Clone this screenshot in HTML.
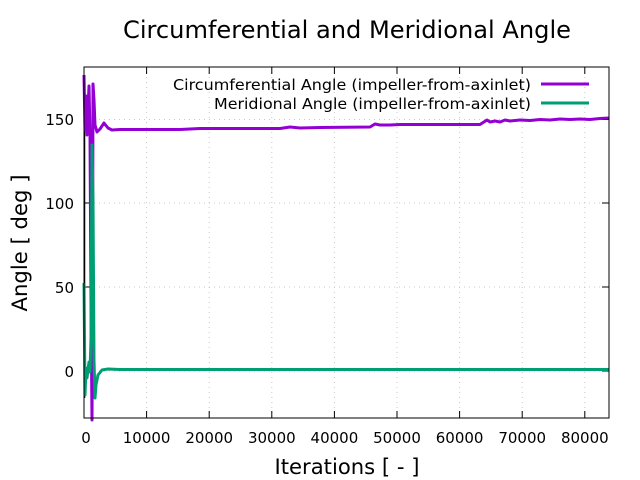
<!DOCTYPE html>
<html><head><meta charset="utf-8"><style>
body{margin:0;background:#fff}
svg{display:block;font-family:"DejaVu Sans",sans-serif}
</style></head><body>
<svg width="640" height="480" viewBox="0 0 640 480">
<rect width="640" height="480" fill="#fff"/>
<g stroke="#c8c8c8" stroke-width="1" stroke-dasharray="1,4">
<line x1="146.6" y1="67" x2="146.6" y2="418"/><line x1="209.2" y1="67" x2="209.2" y2="418"/>
<line x1="271.8" y1="67" x2="271.8" y2="418"/><line x1="334.4" y1="67" x2="334.4" y2="418"/>
<line x1="397" y1="67" x2="397" y2="418"/><line x1="459.6" y1="67" x2="459.6" y2="418"/>
<line x1="522.2" y1="67" x2="522.2" y2="418"/><line x1="584.8" y1="67" x2="584.8" y2="418"/>
<line x1="84" y1="371" x2="609" y2="371"/><line x1="84" y1="287" x2="609" y2="287"/>
<line x1="84" y1="203" x2="609" y2="203"/><line x1="84" y1="119.5" x2="609" y2="119.5"/>
</g>
<g stroke="#000" stroke-width="1">
<line x1="84" y1="371" x2="91" y2="371"/><line x1="84" y1="287" x2="91" y2="287"/><line x1="84" y1="203" x2="91" y2="203"/><line x1="84" y1="119.5" x2="91" y2="119.5"/>
<line x1="609" y1="371" x2="602" y2="371"/><line x1="609" y1="287" x2="602" y2="287"/><line x1="609" y1="203" x2="602" y2="203"/><line x1="609" y1="119.5" x2="602" y2="119.5"/>
<line x1="146.6" y1="418" x2="146.6" y2="411"/><line x1="209.2" y1="418" x2="209.2" y2="411"/><line x1="271.8" y1="418" x2="271.8" y2="411"/><line x1="334.4" y1="418" x2="334.4" y2="411"/><line x1="397" y1="418" x2="397" y2="411"/><line x1="459.6" y1="418" x2="459.6" y2="411"/><line x1="522.2" y1="418" x2="522.2" y2="411"/><line x1="584.8" y1="418" x2="584.8" y2="411"/>
<line x1="146.6" y1="67" x2="146.6" y2="74"/><line x1="209.2" y1="67" x2="209.2" y2="74"/><line x1="271.8" y1="67" x2="271.8" y2="74"/><line x1="334.4" y1="67" x2="334.4" y2="74"/><line x1="397" y1="67" x2="397" y2="74"/><line x1="459.6" y1="67" x2="459.6" y2="74"/><line x1="522.2" y1="67" x2="522.2" y2="74"/><line x1="584.8" y1="67" x2="584.8" y2="74"/>
</g>
<line x1="84.5" y1="75" x2="84.5" y2="398" stroke="#000" stroke-width="1.5"/>
<polyline fill="none" stroke="#9400d3" stroke-width="3" stroke-linejoin="round" points="84,75 85,130 86,96 87,135 89,86 90,135 91,300 92,420 92.5,300 93,84 94,100 95,125 97,132 100,129 104,123 108,128 112,130 120,129.5 180,129.5 200,128.5 280,128.5 290,127 300,128 320,127.5 370,127 375,124 380,125 390,125 400,124.5 420,124.5 460,124.5 480,124.5 487,120 490,122 495,121 500,122 505,120 510,121 520,120 530,120.5 540,119.5 550,120 560,119 570,119.5 580,119 590,119.5 600,118.5 609,118"/>
<polyline fill="none" stroke="#009e73" stroke-width="3" stroke-linejoin="round" points="84,283 85,395 86,368 87,378 89,362 90,372 91,338 92,145 93,200 94,360 95,398 96,385 98,375 102,370 108,369 120,369.5 609,369.5"/>
<rect x="84" y="67" width="525" height="351" fill="none" stroke="#000" stroke-width="1"/>
<g font-size="15" fill="#000">
<text x="74" y="377" text-anchor="end">0</text>
<text x="74" y="293" text-anchor="end">50</text>
<text x="74" y="209" text-anchor="end">100</text>
<text x="74" y="125" text-anchor="end">150</text>
<g text-anchor="middle">
<text x="86" y="443">0</text><text x="146.6" y="443">10000</text><text x="209.2" y="443">20000</text><text x="271.8" y="443">30000</text><text x="334.4" y="443">40000</text><text x="397" y="443">50000</text><text x="459.6" y="443">60000</text><text x="522.2" y="443">70000</text><text x="584.8" y="443">80000</text>
</g>
<text x="531" y="90" text-anchor="end" textLength="358" lengthAdjust="spacingAndGlyphs">Circumferential Angle (impeller-from-axinlet)</text>
<text x="531" y="109" text-anchor="end" textLength="317" lengthAdjust="spacingAndGlyphs">Meridional Angle (impeller-from-axinlet)</text>
</g>
<line x1="541" y1="84" x2="589" y2="84" stroke="#9400d3" stroke-width="3"/>
<line x1="541" y1="103" x2="589" y2="103" stroke="#009e73" stroke-width="3"/>
<text x="347" y="38" text-anchor="middle" font-size="24" textLength="448" lengthAdjust="spacingAndGlyphs">Circumferential and Meridional Angle</text>
<text x="347" y="474" text-anchor="middle" font-size="21" textLength="145" lengthAdjust="spacingAndGlyphs">Iterations [ - ]</text>
<text transform="translate(27,243) rotate(-90)" text-anchor="middle" font-size="21" textLength="137" lengthAdjust="spacingAndGlyphs">Angle [ deg ]</text>
</svg>
</body></html>
